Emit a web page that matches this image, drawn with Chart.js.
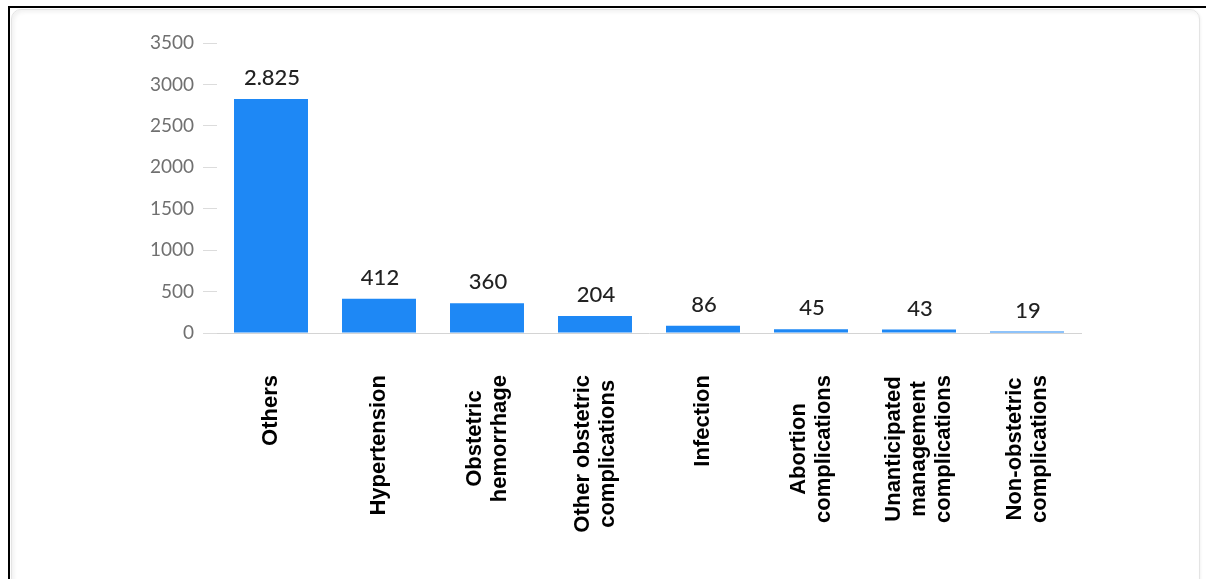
<!DOCTYPE html>
<html>
<head>
<meta charset="utf-8">
<script src="https://cdn.jsdelivr.net/npm/chart.js@4.4.1/dist/chart.umd.min.js"></script>
<style>
  html, body { margin: 0; padding: 0; background: #ffffff; }
  #page { position: relative; width: 1206px; height: 579px; overflow: hidden; background: #fff; }
  #outer { position: absolute; left: 8px; top: 6px; width: 1210px; height: 600px;
           border-top: 2px solid #000; border-left: 2px solid #000; }
  #inner { position: absolute; left: 11px; top: 9px; width: 1187px; height: 580px;
           border: 1px solid #e4e4e4; border-radius: 10px;
           box-shadow: inset 2px 2px 4px rgba(0,0,0,0.06), 1px 1px 3px rgba(0,0,0,0.05); }
  canvas { position: absolute; left: 0; top: 0; }
</style>
</head>
<body>
<div id="page">
  <div id="outer"></div>
  <div id="inner"></div>
  <canvas id="c" width="1206" height="579"></canvas>
</div>
<script>
const categories = [
  ["Others"],
  ["Hypertension"],
  ["Obstetric", "hemorrhage"],
  ["Other obstetric", "complications"],
  ["Infection"],
  ["Abortion", "complications"],
  ["Unanticipated", "management", "complications"],
  ["Non-obstetric", "complications"]
];
const deaths = [2825, 412, 360, 204, 86, 45, 43, 19];
const yTicks = [0, 500, 1000, 1500, 2000, 2500, 3000, 3500];

const fmt = new Intl.NumberFormat('de-DE');

const valueLabelPlugin = {
  id: 'valueLabels',
  afterDatasetsDraw(chart) {
    const ctx = chart.ctx;
    const meta = chart.getDatasetMeta(0);
    ctx.save();
    ctx.font = '500 22px Lato, "Open Sans", sans-serif';
    ctx.fillStyle = '#222222';
    ctx.textAlign = 'center';
    ctx.textBaseline = 'middle';
    meta.data.forEach((bar, i) => {
      ctx.fillText(fmt.format(deaths[i]), bar.x + 1, bar.y - 21);
    });
    ctx.restore();
  }
};

const xLabelPlugin = {
  id: 'xLabels',
  afterDraw(chart) {
    const ctx = chart.ctx;
    const xs = chart.scales.x;
    const area = chart.chartArea;
    const lineH = 25;
    ctx.save();
    ctx.font = 'bold 22px "Liberation Sans", Arial, sans-serif';
    ctx.fillStyle = '#000';
    ctx.textAlign = 'center';
    ctx.textBaseline = 'middle';
    categories.forEach((lines, i) => {
      const x = xs.getPixelForTick(i);
      const maxW = Math.max(...lines.map(l => ctx.measureText(l).width));
      const cy = area.bottom + 42 + maxW / 2;
      ctx.save();
      ctx.translate(x, cy);
      ctx.rotate(-Math.PI / 2);
      lines.forEach((l, j) => {
        ctx.fillText(l, 0, (j - (lines.length - 1) / 2) * lineH);
      });
      ctx.restore();
    });
    ctx.restore();
  }
};

new Chart(document.getElementById('c'), {
  type: 'bar',
  data: {
    labels: categories,
    datasets: [{
      data: deaths,
      backgroundColor: '#1E88F5',
      borderWidth: 0,
      barPercentage: 0.685,
      categoryPercentage: 1.0
    }]
  },
  options: {
    responsive: false,
    animation: false,
    devicePixelRatio: 1,
    layout: { padding: { top: 43, left: 100, right: 125, bottom: 0 } },
    plugins: { legend: { display: false }, tooltip: { enabled: false } },
    scales: {
      x: {
        grid: { display: false },
        border: { display: true, color: '#d4d4d4', width: 1 },
        ticks: { display: false },
        afterFit: s => { s.height = 246; }
      },
      y: {
        min: 0,
        max: 3500,
        afterBuildTicks: s => { s.ticks = yTicks.map(v => ({ value: v })); },
        grid: { display: true, drawOnChartArea: false, drawTicks: true, tickLength: 14, color: '#dcdcdc' },
        border: { display: false },
        ticks: {
          padding: 9,
          color: '#707070',
          font: { family: 'Lato, "Open Sans", sans-serif', size: 19 },
          callback: v => String(v)
        },
        afterFit: s => { s.width = 117; }
      }
    }
  },
  plugins: [valueLabelPlugin, xLabelPlugin]
});
</script>
</body>
</html>
